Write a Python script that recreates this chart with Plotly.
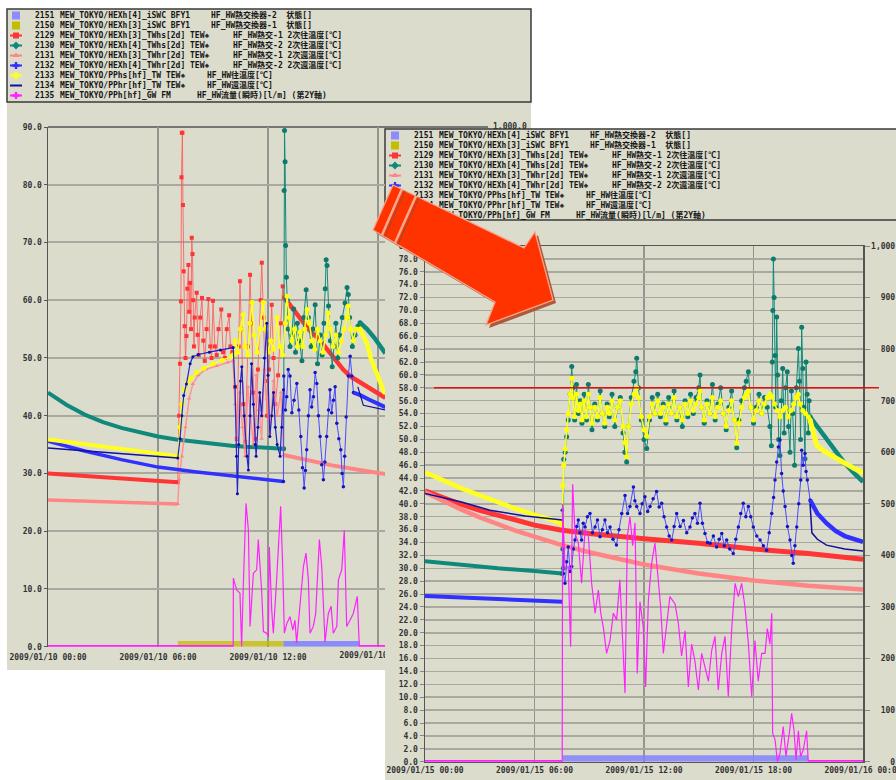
import pandas as pd
import plotly.graph_objects as go

W, H = 896, 780
DAY1 = "2009-01-10"
DAY2 = "2009-01-15"

# ---------------- Day 1 (left screenshot) : (hour, value) ----------------
D1_TEAL_IDLE = [(0, 44.0), (1, 41.9), (2, 40.2), (3, 38.9), (4, 37.9), (5, 37.1), (6, 36.4), (7, 35.9),
                (8, 35.5), (9, 35.1), (10, 34.8), (11, 34.6), (12, 34.5), (12.85, 34.3)]
D1_TEAL_RUN = [(12.85, 34.3), (12.88, 79.0), (12.9, 89.4), (12.93, 84.0), (12.96, 69.5), (13.0, 64.0), (13.05, 60.0),
               (13.1, 55.0), (13.2, 52.0), (13.3, 54.0), (13.4, 58.5), (13.5, 51.0), (13.6, 56.0), (13.7, 53.0),
               (13.85, 49.5), (13.95, 57.0), (14.08, 61.8), (14.2, 57.0), (14.35, 52.0), (14.45, 55.0), (14.57, 59.2),
               (14.7, 49.0), (14.85, 54.0), (14.95, 50.5), (15.05, 56.0), (15.12, 62.0), (15.17, 67.0), (15.22, 66.0),
               (15.3, 59.0), (15.4, 53.0), (15.5, 48.5), (15.6, 52.0), (15.7, 56.0), (15.8, 50.0), (15.9, 54.0),
               (16.05, 57.0), (16.2, 59.5), (16.31, 62.2), (16.38, 61.0), (16.45, 57.0), (16.6, 52.0), (16.75, 54.0),
               (16.9, 55.5), (17.02, 56.1)]
D1_TEAL_TAIL = [(17.02, 56.1), (17.4, 55.0), (17.8, 53.5), (18.2, 51.6), (18.4, 50.8)]

D1_RED_IDLE = [(0, 30.0), (2, 29.6), (4, 29.2), (6, 28.8), (7.08, 28.5)]
D1_RED_RUN = [(7.08, 28.5), (7.15, 40.0), (7.2, 49.0), (7.25, 59.8), (7.28, 81.3), (7.3, 89.0), (7.33, 89.0),
              (7.36, 76.5), (7.4, 65.0), (7.45, 55.5), (7.5, 50.0), (7.55, 53.8), (7.6, 62.0), (7.66, 66.1),
              (7.7, 58.0), (7.75, 63.0), (7.8, 55.0), (7.84, 70.8), (7.88, 68.0), (7.92, 60.0), (7.96, 52.0),
              (8.0, 57.0), (8.11, 61.3), (8.16, 54.0), (8.22, 50.5), (8.3, 57.0), (8.4, 60.4), (8.47, 53.0),
              (8.55, 49.5), (8.65, 55.0), (8.75, 60.2), (8.85, 52.0), (8.92, 50.0), (9.0, 59.9), (9.1, 52.0),
              (9.2, 50.5), (9.3, 55.0), (9.45, 58.4), (9.55, 51.0), (9.65, 50.0), (9.75, 55.0), (9.88, 57.4),
              (9.95, 52.0), (10.05, 51.0), (10.2, 45.0), (10.3, 36.0), (10.4, 52.0), (10.47, 63.3), (10.55, 55.0),
              (10.65, 42.0), (10.75, 35.5), (10.9, 52.0), (11.02, 64.4), (11.1, 56.0), (11.2, 44.0), (11.3, 36.0),
              (11.45, 48.0), (11.6, 60.0), (11.66, 66.5), (11.75, 57.0), (11.85, 46.0), (11.95, 40.0), (12.05, 48.0),
              (12.2, 59.2), (12.3, 50.0), (12.4, 42.0), (12.55, 47.0), (12.7, 56.0), (12.8, 62.4), (12.88, 60.5)]
D1_RED_TAIL = [(12.88, 60.5), (13.5, 58.0), (14.2, 55.0), (14.85, 53.0), (15.5, 50.5), (16.1, 48.0), (16.5, 46.8),
               (17.4, 45.0), (18.3, 43.3), (18.4, 43.1)]

D1_PINK_IDLE = [(0, 25.4), (3.5, 25.1), (7.08, 24.7)]
D1_PINK_RUN = [(7.08, 24.7), (7.15, 29.0), (7.3, 33.0), (7.5, 38.0), (7.7, 43.0), (7.9, 45.5), (8.2, 47.0),
               (8.6, 48.0), (9.2, 48.6), (9.8, 49.2), (10.1, 49.5), (10.2, 42.0), (10.3, 36.0), (10.45, 44.0),
               (10.6, 38.0), (10.75, 33.0), (10.9, 45.0), (11.05, 40.0), (11.2, 35.0), (11.35, 47.0), (11.5, 41.0),
               (11.65, 36.0), (11.8, 48.0), (11.95, 43.0), (12.1, 37.0), (12.3, 46.0), (12.5, 40.0), (12.7, 44.0),
               (12.85, 33.2)]
D1_PINK_TAIL = [(12.85, 33.2), (14, 32.4), (15.5, 31.4), (17, 30.6), (18.4, 29.9)]

D1_BLUE_IDLE = [(0, 35.6), (2, 33.9), (4, 32.4), (6, 31.1), (8, 30.3), (10, 29.6), (12, 29.0), (12.84, 28.6)]
D1_BLUE_RUN = [(12.84, 28.6), (12.86, 46.9), (12.95, 41.0), (13.02, 43.3), (13.1, 48.0), (13.2, 46.9), (13.3, 40.5),
               (13.42, 42.7), (13.57, 45.6), (13.68, 41.0), (13.79, 36.4), (13.88, 31.0), (13.97, 27.5), (14.04, 30.5),
               (14.11, 34.1), (14.2, 40.0), (14.29, 44.5), (14.38, 41.5), (14.48, 43.3), (14.57, 47.5), (14.66, 45.6),
               (14.75, 40.0), (14.84, 36.4), (14.93, 31.5), (15.02, 28.9), (15.1, 32.0), (15.2, 36.4), (15.3, 41.0),
               (15.38, 44.5), (15.47, 40.5), (15.57, 42.7), (15.66, 45.0), (15.75, 38.7), (15.86, 36.0), (15.97, 34.1),
               (16.04, 30.0), (16.11, 27.7), (16.18, 33.0), (16.26, 39.8), (16.38, 46.9), (16.48, 50.3), (16.57, 46.9),
               (16.66, 44.0)]
D1_BLUE_TAIL = [(16.66, 44.0), (17.0, 43.6), (17.5, 42.8), (18.0, 42.0), (18.4, 41.5)]

D1_YELLOW_IDLE = [(0, 35.9), (2, 35.1), (4, 34.3), (6, 33.5), (7.08, 33.0)]
D1_YELLOW_RUN = [(7.08, 33.0), (7.2, 38.0), (7.3, 42.0), (7.45, 44.5), (7.6, 45.7), (7.8, 46.5), (8.1, 47.5),
                 (8.5, 48.2), (9.0, 49.0), (9.5, 49.6), (10.0, 50.2), (10.1, 50.5), (10.2, 53.0), (10.35, 51.0),
                 (10.5, 55.0), (10.64, 57.5), (10.75, 52.0), (10.9, 50.5), (11.0, 56.0), (11.13, 59.6), (11.25, 54.0),
                 (11.4, 51.0), (11.55, 55.0), (11.73, 59.6), (11.85, 55.0), (12.0, 51.0), (12.15, 53.0), (12.3, 51.5),
                 (12.49, 57.0), (12.65, 52.0), (12.8, 50.5), (12.95, 56.0), (13.04, 60.7), (13.15, 57.0), (13.3, 53.0),
                 (13.45, 55.0), (13.6, 52.0), (13.75, 54.5), (13.9, 52.0), (14.0, 55.0), (14.13, 58.4), (14.25, 56.0),
                 (14.4, 53.0), (14.55, 51.5), (14.7, 55.0), (14.85, 53.0), (15.0, 51.0), (15.15, 54.0), (15.28, 57.8),
                 (15.4, 55.0), (15.55, 52.0), (15.7, 54.0), (15.85, 51.0), (16.0, 53.0), (16.15, 55.0), (16.3, 57.0),
                 (16.37, 59.0), (16.5, 55.0), (16.65, 53.0), (16.8, 55.0), (17.02, 55.0)]
D1_YELLOW_TAIL = [(17.02, 55.0), (17.4, 52.5), (17.6, 50.0), (17.95, 47.0), (18.28, 44.5), (18.4, 43.8)]

D1_NAVY_IDLE = [(0, 34.4), (3.5, 33.6), (7.08, 32.7)]
D1_NAVY_RUN = [(7.08, 32.7), (7.2, 36.0), (7.3, 40.0), (7.4, 43.5), (7.55, 45.5), (7.75, 49.0), (7.9, 50.2),
               (8.2, 50.6), (8.8, 51.0), (9.4, 51.4), (10.1, 51.8), (10.2, 45.0), (10.28, 33.0), (10.33, 26.5),
               (10.4, 35.0), (10.5, 46.0), (10.57, 48.5), (10.7, 40.0), (10.85, 33.0), (10.93, 30.6), (11.02, 40.0),
               (11.1, 49.0), (11.2, 42.0), (11.3, 35.0), (11.35, 33.0), (11.45, 38.0), (11.55, 44.0), (11.65, 40.0),
               (11.8, 50.0), (11.93, 56.0), (12.0, 47.0), (12.1, 36.4), (12.2, 40.0), (12.3, 44.0), (12.4, 38.0),
               (12.5, 35.0), (12.66, 33.0), (12.75, 38.0), (12.84, 44.5)]
D1_NAVY_TAIL = [(16.9, 45.0), (17.2, 41.8), (18.4, 41.0)]

# flow [l/m] on the second Y axis
D1_FLOW_IDLE_A = [(0, 0), (10.1, 0)]
D1_FLOW_RUN = [(10.1, 0), (10.11, 132), (10.2, 120), (10.29, 109), (10.47, 103), (10.56, 0), (10.65, 116),
               (10.8, 276), (10.93, 224), (11.02, 39), (11.2, 141), (11.38, 148), (11.47, 206), (11.65, 109),
               (11.75, 29), (11.93, 26), (12.02, 19), (12.07, 192), (12.2, 71), (12.29, 26), (12.47, 129),
               (12.69, 270), (12.8, 154), (12.89, 26), (13.02, 44), (13.2, 58), (13.35, 32), (13.47, 51), (13.56, 7),
               (13.75, 78), (13.93, 154), (14.07, 180), (14.2, 129), (14.29, 26), (14.47, 39), (14.6, 64),
               (14.8, 206), (14.93, 154), (15.11, 9), (15.29, 64), (15.44, 78), (15.56, 26), (15.75, 39),
               (15.84, 129), (16.02, 148), (16.16, 224), (16.29, 39), (16.47, 51), (16.65, 64), (16.87, 97),
               (16.98, 0)]
D1_FLOW_IDLE_B = [(16.98, 0), (18.4, 0)]

# equipment states (on = 1)
D1_HEX1_ON = [(7.08, 1), (12.84, 1)]
D1_HEX2_ON = [(12.84, 1), (16.98, 1)]

# ---------------- Day 2 (right screenshot) ----------------
D2_YELLOW_IDLE = [(0, 44.9), (1, 43.6), (2, 42.4), (3, 41.3), (4, 40.2), (5, 39.2), (6, 38.3), (7, 37.5), (7.52, 36.8)]
D2_NAVY_IDLE = [(0, 41.6), (2, 40.3), (3.56, 39.0), (5.5, 38.1), (7.52, 37.5)]
D2_RED = [(0, 42.0), (1, 40.9), (2, 39.9), (3, 39.0), (4, 38.2), (5, 37.4), (6, 36.7), (7.5, 35.9), (9, 35.4),
          (12, 34.6), (15, 33.9), (18, 33.0), (21, 32.3), (24, 31.4)]
D2_PINK = [(0, 41.8), (1, 40.4), (2, 39.1), (3, 37.9), (4, 36.8), (5, 35.8), (6, 34.9), (7.5, 33.6), (9, 32.5),
           (12, 30.6), (15, 29.2), (18, 28.1), (21, 27.3), (24, 26.7)]
D2_TEAL_IDLE = [(0, 31.1), (2, 30.5), (4, 30.0), (6, 29.6), (7.52, 29.2)]
D2_BLUE_IDLE = [(0, 25.7), (3.56, 25.3), (7.52, 24.8)]

D2_TEAL_RUN = [(7.52, 29.2), (7.55, 33.0), (7.58, 30.0), (7.6, 46.9), (7.68, 48.0), (7.76, 50.4), (7.85, 53.0),
               (7.95, 57.0), (8.04, 61.3), (8.1, 58.0), (8.2, 53.0), (8.3, 58.5), (8.4, 54.0), (8.5, 56.0),
               (8.6, 52.5), (8.72, 57.0), (8.85, 53.0), (8.95, 58.5), (9.05, 55.0), (9.15, 51.5), (9.3, 55.5),
               (9.45, 53.0), (9.6, 57.5), (9.72, 54.0), (9.85, 52.0), (9.98, 55.5), (10.1, 53.5), (10.25, 57.0),
               (10.4, 52.0), (10.55, 55.0), (10.7, 56.5), (10.85, 51.0), (10.95, 48.0), (11.05, 46.5), (11.15, 52.0),
               (11.3, 56.5), (11.45, 59.0), (11.55, 60.5), (11.6, 62.6), (11.7, 58.0), (11.85, 53.0), (12.0, 50.0),
               (12.15, 48.6), (12.3, 53.0), (12.45, 56.5), (12.6, 54.0), (12.75, 57.0), (12.9, 53.5), (13.05, 55.5),
               (13.2, 52.5), (13.35, 56.5), (13.5, 54.0), (13.65, 57.5), (13.8, 53.0), (13.95, 55.0), (14.1, 52.0),
               (14.25, 56.0), (14.4, 53.5), (14.55, 57.0), (14.7, 54.0), (14.85, 56.5), (15.0, 58.0), (15.07, 60.0),
               (15.15, 55.0), (15.3, 52.5), (15.45, 56.0), (15.6, 54.0), (15.75, 58.5), (15.9, 53.0), (16.05, 55.5),
               (16.2, 58.0), (16.35, 54.0), (16.5, 51.5), (16.65, 55.0), (16.8, 57.5), (16.95, 53.0), (17.08, 48.7),
               (17.2, 53.0), (17.35, 56.0), (17.5, 58.0), (17.6, 59.0), (17.72, 60.5), (17.85, 55.0), (18.0, 52.5),
               (18.15, 55.0), (18.3, 57.0), (18.45, 54.0), (18.6, 56.5), (18.75, 55.0), (18.9, 52.0), (18.98, 49.0),
               (19.03, 62.0), (19.06, 70.0), (19.09, 78.0), (19.13, 72.0), (19.18, 63.0), (19.22, 55.0),
               (19.27, 69.0), (19.32, 60.0), (19.38, 50.0), (19.45, 47.5), (19.52, 56.0), (19.6, 61.0), (19.68, 51.0),
               (19.76, 58.0), (19.85, 60.5), (19.92, 52.0), (20.0, 48.0), (20.08, 57.5), (20.15, 54.0), (20.25, 46.0),
               (20.35, 58.0), (20.46, 64.1), (20.52, 59.0), (20.58, 50.0), (20.64, 67.4), (20.7, 61.0), (20.76, 55.0),
               (20.82, 47.0), (20.88, 62.0), (20.94, 57.0), (21.0, 51.0), (21.05, 56.0), (21.1, 53.5)]
D2_TEAL_TAIL = [(21.1, 53.5), (21.5, 52.0), (22.2, 49.4), (22.6, 47.7), (23.0, 46.3), (23.5, 44.8), (24.0, 43.4)]

D2_YELLOW_RUN = [(7.52, 36.8), (7.55, 42.9), (7.6, 46.0), (7.68, 48.5), (7.76, 51.5), (7.85, 54.0), (7.95, 57.0),
                 (8.04, 59.5), (8.1, 56.5), (8.2, 53.5), (8.3, 57.0), (8.4, 54.5), (8.5, 55.5), (8.6, 53.0),
                 (8.72, 56.0), (8.85, 53.5), (8.95, 57.0), (9.05, 55.0), (9.15, 52.5), (9.3, 55.0), (9.45, 53.5),
                 (9.6, 56.5), (9.72, 54.0), (9.85, 52.5), (9.98, 55.0), (10.1, 54.0), (10.25, 56.0), (10.4, 53.0),
                 (10.55, 55.0), (10.7, 56.0), (10.85, 52.0), (10.95, 49.5), (11.05, 47.3), (11.15, 52.0),
                 (11.3, 55.5), (11.45, 57.0), (11.6, 58.0), (11.7, 56.5), (11.85, 53.5), (12.0, 51.5), (12.15, 50.5),
                 (12.3, 53.5), (12.45, 55.5), (12.6, 54.0), (12.75, 56.0), (12.9, 54.0), (13.05, 55.0), (13.2, 53.0),
                 (13.35, 55.5), (13.5, 54.0), (13.65, 56.5), (13.8, 53.5), (13.95, 55.0), (14.1, 53.0), (14.25, 55.5),
                 (14.4, 54.0), (14.55, 56.0), (14.7, 54.5), (14.85, 55.5), (15.0, 56.5), (15.07, 57.5), (15.15, 55.0),
                 (15.3, 53.0), (15.45, 55.5), (15.6, 54.0), (15.75, 56.5), (15.9, 53.5), (16.05, 55.0), (16.2, 56.0),
                 (16.35, 54.0), (16.5, 52.0), (16.65, 54.5), (16.8, 56.0), (16.95, 53.0), (17.08, 49.4), (17.2, 52.5),
                 (17.35, 55.0), (17.5, 56.5), (17.6, 57.0), (17.72, 57.5), (17.85, 55.0), (18.0, 53.0), (18.15, 54.5),
                 (18.3, 56.0), (18.45, 54.0), (18.6, 55.5), (18.75, 56.5), (18.9, 57.0), (19.0, 56.6), (19.15, 55.5),
                 (19.3, 54.5), (19.45, 53.5), (19.6, 54.5), (19.75, 55.0), (19.9, 53.5), (20.05, 54.5), (20.2, 55.5),
                 (20.35, 56.5), (20.46, 57.0), (20.55, 55.5), (20.7, 54.5), (20.85, 54.0), (21.0, 53.5), (21.1, 53.0)]
D2_YELLOW_TAIL = [(21.1, 53.0), (21.46, 49.1), (21.8, 48.3), (22.2, 47.6), (22.6, 46.9), (23.0, 46.3), (23.5, 45.5),
                  (24.0, 44.8)]

D2_BLUE_RUN = [(7.52, 39.0), (7.58, 29.2), (7.67, 27.7), (7.76, 31.0), (7.85, 33.3), (7.95, 29.5), (8.04, 30.3),
               (8.13, 33.0), (8.22, 34.4), (8.31, 36.5), (8.40, 37.5), (8.49, 35.5), (8.58, 34.4), (8.67, 37.0),
               (8.77, 36.4), (8.9, 38.0), (9.04, 38.5), (9.18, 35.5), (9.32, 36.4), (9.45, 37.5), (9.59, 34.9),
               (9.72, 36.0), (9.86, 37.5), (10.0, 35.5), (10.14, 36.4), (10.3, 34.5), (10.49, 33.6), (10.63, 36.0),
               (10.78, 38.5), (10.96, 41.3), (11.1, 38.5), (11.23, 39.6), (11.42, 42.6), (11.5, 40.5), (11.60, 39.6),
               (11.78, 38.5), (11.9, 40.0), (12.05, 41.1), (12.2, 38.8), (12.33, 39.6), (12.5, 40.8), (12.69, 41.9),
               (12.83, 39.5), (12.97, 40.1), (13.1, 38.0), (13.24, 36.4), (13.38, 35.0), (13.52, 34.4),
               (13.65, 36.5), (13.79, 38.5), (13.98, 36.5), (14.16, 37.4), (14.34, 35.5), (14.52, 36.4),
               (14.65, 37.8), (14.79, 38.5), (14.93, 37.0), (15.07, 40.1), (15.2, 37.0), (15.34, 35.4), (15.48, 34.0),
               (15.62, 33.9), (15.8, 35.0), (15.98, 33.3), (16.12, 34.5), (16.26, 35.4), (16.4, 33.5), (16.53, 34.4),
               (16.7, 33.0), (16.89, 32.3), (17.03, 34.5), (17.17, 36.4), (17.3, 38.5), (17.44, 40.1), (17.58, 38.0),
               (17.72, 39.6), (17.85, 38.0), (17.99, 36.4), (18.18, 35.0), (18.36, 34.4), (18.54, 33.5),
               (18.72, 32.8), (18.86, 35.5), (19.00, 38.5), (19.1, 41.0), (19.18, 43.7), (19.27, 46.5),
               (19.36, 48.8), (19.45, 49.9), (19.54, 44.7), (19.63, 42.0), (19.73, 39.6), (19.86, 36.5),
               (20.0, 34.4), (20.1, 32.0), (20.18, 30.8), (20.27, 33.5), (20.37, 36.4), (20.48, 40.0),
               (20.59, 43.7), (20.64, 48.3), (20.72, 46.0), (20.82, 47.8), (20.88, 45.0), (20.95, 43.7),
               (21.10, 40.6)]
D2_BLUE_TAIL = [(21.1, 40.6), (21.5, 38.5), (22.0, 37.0), (22.5, 35.8), (23.0, 35.0), (23.5, 34.5), (24.0, 34.1)]
D2_NAVY_TAIL = [(21.1, 40.0), (21.2, 35.5), (21.5, 34.5), (22.0, 33.6), (23.0, 33.0), (24.0, 32.7)]

D2_FLOW_IDLE_A = [(0, 0), (7.52, 0)]
D2_FLOW_RUN = [(7.52, 0), (7.54, 500), (7.67, 375), (7.85, 378), (7.98, 223), (8.09, 538), (8.22, 443), (8.40, 425),
               (8.58, 346), (8.77, 450), (8.95, 438), (9.13, 346), (9.32, 288), (9.50, 333), (9.63, 288), (9.77, 261),
               (9.95, 210), (10.14, 235), (10.32, 288), (10.50, 275), (10.68, 353), (10.87, 184), (10.96, 133),
               (11.09, 438), (11.23, 475), (11.38, 419), (11.51, 463), (11.63, 171), (11.78, 310), (11.96, 261),
               (12.09, 145), (12.24, 313), (12.42, 385), (12.60, 424), (12.79, 346), (12.91, 301), (13.06, 210),
               (13.24, 261), (13.42, 320), (13.70, 306), (13.88, 269), (14.06, 205), (14.25, 254), (14.43, 145),
               (14.61, 228), (14.79, 195), (14.98, 139), (15.16, 210), (15.34, 186), (15.53, 156), (15.71, 216),
               (15.89, 243), (16.07, 139), (16.26, 210), (16.44, 243), (16.62, 126), (16.80, 254), (16.99, 346),
               (17.17, 320), (17.35, 346), (17.53, 301), (17.72, 229), (17.90, 126), (18.08, 235), (18.26, 156),
               (18.45, 210), (18.63, 210), (18.76, 258), (18.90, 228), (19.00, 288), (19.05, 55), (19.18, 43),
               (19.31, 0), (19.45, 16), (19.63, 68), (19.78, 10), (19.96, 55), (20.09, 94), (20.22, 61), (20.33, 4),
               (20.46, 60), (20.58, 10), (20.73, 23), (20.91, 60), (21.00, 0)]
D2_FLOW_IDLE_B = [(21.0, 0), (24.0, 0)]
D2_HEX2_ON = [(7.54, 1), (21.0, 1)]

SETPOINT = 58.0

# ---------------- tick labels / legend text ----------------
D1_TICK_HOURS = [0, 6, 12, 18]
D1_TICK_TEXT = ["2009/01/10 00:00", "2009/01/10 06:00", "2009/01/10 12:00", ""]
D1_CUT_LABEL = "2009/01/10 18:00"
D2_TICK_HOURS = [0, 6, 12, 18, 24]
D2_TICK_TEXT = ["2009/01/15 00:00", "2009/01/15 06:00", "2009/01/15 12:00", "2009/01/15 18:00", "2009/01/16 00:00"]
FLOW_TICKS = [0, 100, 200, 300, 400, 500, 600, 700, 800, 900, 1000]

LEG_IDS = ["2151", "2150", "2129", "2130", "2131", "2132", "2133", "2134", "2135"]
LEG_TAGS = ["MEW_TOKYO/HEXh[4]_iSWC BFY1", "MEW_TOKYO/HEXh[3]_iSWC BFY1",
            "MEW_TOKYO/HEXh[3]_TWhs[2d] TEW◈", "MEW_TOKYO/HEXh[4]_TWhs[2d] TEW◈",
            "MEW_TOKYO/HEXh[3]_TWhr[2d] TEW◈", "MEW_TOKYO/HEXh[4]_TWhr[2d] TEW◈",
            "MEW_TOKYO/PPhs[hf]_TW TEW◈", "MEW_TOKYO/PPhr[hf]_TW TEW◈", "MEW_TOKYO/PPh[hf]_GW FM"]
LEG_DESCS = ["HF_HW熱交換器-2  状態[]", "HF_HW熱交換器-1  状態[]",
             "HF_HW熱交-1 2次往温度[℃]", "HF_HW熱交-2 2次往温度[℃]",
             "HF_HW熱交-1 2次還温度[℃]", "HF_HW熱交-2 2次還温度[℃]",
             "HF_HW往温度[℃]", "HF_HW還温度[℃]", "HF_HW流量(瞬時)[l/m] (第2Y軸)"]

# ---------------- styles / layout constants ----------------
BG = "#dcdccd"
HGRID = "#a9a9a2"
VGRID = "#95958f"
AXC = "#555555"
TXT = "#151515"
MONO = "DejaVu Sans Mono, Noto Sans CJK JP"
TICKFONT = dict(family=MONO, size=8, color="#333333", weight="bold")

C_RED, C_TEAL, C_PINK = "#ff3535", "#11897a", "#ff8585"
C_BLUE, C_YEL, C_NAVY, C_MAG = "#3030ff", "#ffff22", "#10109a", "#ff22ff"
C_LAV, C_OLV = "#8c8cff", "#c4bc00"
LEG_COLORS = [C_LAV, C_OLV, C_RED, C_TEAL, C_PINK, C_BLUE, C_YEL, C_NAVY, C_MAG]
LEG_SYMS = ["square", "square", "square", "diamond", "triangle-up", "cross", "diamond", None, "cross"]
DESC_X = [214, 214, 236, 236, 236, 236, 210, 210, 200]

fig = go.Figure()


def when(day, hours):
    base = pd.Timestamp(day)
    return [base + pd.Timedelta(hours=h) for h in hours]


def add(day, pairs, xa, ya, color, width, mode="lines", msym="circle", msize=4, mcolor=None,
        fill=None, fillcolor=None, dash=None, opacity=1.0):
    hrs = [p[0] for p in pairs]
    vals = [p[1] for p in pairs]
    fig.add_trace(go.Scatter(
        x=when(day, hrs), y=vals, xaxis=xa, yaxis=ya, mode=mode,
        line=dict(color=color, width=width, dash=dash),
        marker=dict(symbol=msym, size=msize, color=mcolor or color, line=dict(width=0)),
        fill=fill, fillcolor=fillcolor, opacity=opacity,
        hoverinfo="skip", showlegend=False))


# ----- left chart (day 1) -----
add(DAY1, D1_HEX1_ON, "x", "y", C_OLV, 0, fill="tozeroy", fillcolor="rgba(196,188,0,0.75)")
add(DAY1, D1_HEX2_ON, "x", "y", C_LAV, 0, fill="tozeroy", fillcolor="rgba(130,130,255,0.9)")
add(DAY1, D1_RED_IDLE, "x", "y", C_RED, 4)
add(DAY1, D1_RED_RUN, "x", "y", "rgba(255,90,90,0.85)", 1, "lines+markers", "square", 4, C_RED)
add(DAY1, D1_RED_TAIL, "x", "y", C_RED, 4.5)
add(DAY1, D1_TEAL_IDLE, "x", "y", C_TEAL, 4)
add(DAY1, D1_TEAL_RUN, "x", "y", C_TEAL, 1, "lines+markers", "circle", 5, "#0c7a6c")
add(DAY1, D1_TEAL_TAIL, "x", "y", C_TEAL, 4.5)
add(DAY1, D1_PINK_IDLE, "x", "y", C_PINK, 3.5)
add(DAY1, D1_PINK_RUN, "x", "y", "rgba(255,140,140,0.9)", 1.5, "lines+markers", "triangle-up", 4, C_PINK)
add(DAY1, D1_PINK_TAIL, "x", "y", C_PINK, 4)
add(DAY1, D1_BLUE_IDLE, "x", "y", C_BLUE, 3.5)
add(DAY1, D1_BLUE_RUN, "x", "y", "#4a4aff", 1, "lines+markers", "circle", 3.5, "#1414c0")
add(DAY1, D1_BLUE_TAIL, "x", "y", C_BLUE, 4)
add(DAY1, D1_YELLOW_IDLE, "x", "y", C_YEL, 4)
add(DAY1, D1_YELLOW_RUN, "x", "y", C_YEL, 1.5, "lines+markers", "circle", 5, "#ffff00")
add(DAY1, D1_YELLOW_TAIL, "x", "y", C_YEL, 4.5)
add(DAY1, D1_NAVY_IDLE, "x", "y", C_NAVY, 1.5)
add(DAY1, D1_NAVY_RUN, "x", "y", "#2424c8", 1.2, "lines+markers", "circle", 3, "#0a0aa8")
add(DAY1, D1_NAVY_TAIL, "x", "y", C_NAVY, 1.2)
add(DAY1, D1_FLOW_IDLE_A, "x", "y2", C_MAG, 3.5)
add(DAY1, D1_FLOW_RUN, "x", "y2", C_MAG, 1.2)
add(DAY1, D1_FLOW_IDLE_B, "x", "y2", C_MAG, 3.5)

# ----- right chart (day 2) -----
add(DAY2, D2_HEX2_ON, "x2", "y3", C_LAV, 0, fill="tozeroy", fillcolor="rgba(130,130,255,0.85)")
add(DAY2, D2_RED, "x2", "y3", C_RED, 5)
add(DAY2, D2_TEAL_IDLE, "x2", "y3", C_TEAL, 4)
add(DAY2, D2_TEAL_RUN, "x2", "y3", C_TEAL, 1, "lines+markers", "circle", 5, "#0c7a6c")
add(DAY2, D2_TEAL_TAIL, "x2", "y3", C_TEAL, 4.5)
add(DAY2, D2_PINK, "x2", "y3", C_PINK, 4.5)
add(DAY2, D2_BLUE_IDLE, "x2", "y3", C_BLUE, 4)
add(DAY2, D2_BLUE_RUN, "x2", "y3", "#4a4aff", 1, "lines+markers", "circle", 3.5, "#1414c0")
add(DAY2, D2_BLUE_TAIL, "x2", "y3", C_BLUE, 4.5)
add(DAY2, D2_YELLOW_IDLE, "x2", "y3", C_YEL, 4.5)
add(DAY2, D2_YELLOW_RUN, "x2", "y3", C_YEL, 1.5, "lines+markers", "circle", 5, "#ffff00")
add(DAY2, D2_YELLOW_TAIL, "x2", "y3", C_YEL, 5)
add(DAY2, D2_NAVY_IDLE, "x2", "y3", C_NAVY, 1.5)
add(DAY2, D2_NAVY_TAIL, "x2", "y3", C_NAVY, 1.5)
add(DAY2, D2_FLOW_IDLE_A, "x2", "y4", C_MAG, 3.5)
add(DAY2, D2_FLOW_RUN, "x2", "y4", C_MAG, 1.2)
add(DAY2, D2_FLOW_IDLE_B, "x2", "y4", C_MAG, 3.5)


# ----- legends (text traces in pixel overlays, so the arrow can cover them) -----
def legend(dx, dy, xa, ya):
    xs, ys, ts = [], [], []
    for i in range(9):
        yy = 15.5 + 10 * i + dy
        xs += [35 + dx, 60 + dx, DESC_X[i] - 3 + dx]
        ys += [yy, yy, yy]
        ts += [LEG_IDS[i], LEG_TAGS[i], LEG_DESCS[i]]
        col = LEG_COLORS[i]
        if i < 2:
            fig.add_trace(go.Scatter(x=[16 + dx], y=[yy], xaxis=xa, yaxis=ya, mode="markers",
                                     marker=dict(symbol="square", size=8, color=col, line=dict(width=0)),
                                     hoverinfo="skip", showlegend=False))
        else:
            fig.add_trace(go.Scatter(x=[10 + dx, 22 + dx], y=[yy, yy], xaxis=xa, yaxis=ya, mode="lines",
                                     line=dict(color=col, width=2), hoverinfo="skip", showlegend=False))
            if LEG_SYMS[i]:
                fig.add_trace(go.Scatter(x=[16 + dx], y=[yy], xaxis=xa, yaxis=ya, mode="markers",
                                         marker=dict(symbol=LEG_SYMS[i], size=6, color=col, line=dict(width=0)),
                                         hoverinfo="skip", showlegend=False))
    fig.add_trace(go.Scatter(x=xs, y=ys, xaxis=xa, yaxis=ya, mode="text", text=ts,
                             textposition="middle right",
                             textfont=dict(family=MONO, size=8, color=TXT, weight="bold"),
                             hoverinfo="skip", showlegend=False))


legend(0, 0, "x3", "y5")
legend(379, 120, "x5", "y7")

# left chart's right-axis top label (mostly hidden under the right screenshot)
fig.add_trace(go.Scatter(x=[493], y=[126.5], xaxis="x3", yaxis="y5", mode="text",
                         text=[f"{FLOW_TICKS[-1]:,.1f}"], textposition="middle right",
                         textfont=TICKFONT, hoverinfo="skip", showlegend=False))
# left chart's last date label, cut by the right screenshot
fig.add_trace(go.Scatter(x=[378], y=[656], xaxis="x4", yaxis="y6", mode="text",
                         text=[D1_CUT_LABEL], textposition="middle center",
                         textfont=TICKFONT, hoverinfo="skip", showlegend=False))


# ---------------- shapes ----------------
def rect(x0, y0, x1, y1, fill=None, line=None, lw=0, layer="below"):
    return dict(type="rect", xref="paper", yref="paper", x0=x0 / W, x1=x1 / W, y0=1 - y1 / H, y1=1 - y0 / H,
                fillcolor=fill or "rgba(0,0,0,0)", line=dict(color=line or "rgba(0,0,0,0)", width=lw), layer=layer)


def seg(x0, y0, x1, y1, color, w, layer="below"):
    return dict(type="line", xref="paper", yref="paper", x0=x0 / W, x1=x1 / W, y0=1 - y0 / H, y1=1 - y1 / H,
                line=dict(color=color, width=w), layer=layer)


def poly(pts, fill, line=None, lw=0, dx=0, dy=0):
    path = "M " + " L ".join(f"{(x + dx) / W:.5f},{1 - (y + dy) / H:.5f}" for x, y in pts) + " Z"
    return dict(type="path", xref="paper", yref="paper", path=path, fillcolor=fill,
                line=dict(color=line or "rgba(0,0,0,0)", width=lw), layer="above")


ARROW = [(393, 185), (524, 248), (535, 232), (553, 300), (486, 325), (495, 302), (373, 230)]

shapes = [
    rect(7, 9, 531, 670, fill=BG),
    rect(7, 9, 531, 102, line="#3a3a3a", lw=1.5),
    seg(48, 127, 488, 127, AXC, 1.5),
    rect(385, 129, 900, 782, fill=BG),
    rect(385, 129, 900, 220, line="#3a3a3a", lw=1.5),
    dict(type="line", xref="paper", yref="y3", x0=434 / W, x1=879 / W, y0=SETPOINT, y1=SETPOINT,
         line=dict(color="#e01010", width=1.5), layer="above"),
    poly(ARROW, "#b0583a", dx=3, dy=3),
    poly(ARROW, "#ff3300", line="#f6a48c", lw=1.3),
    seg(402, 189, 382, 235, "#f6a890", 2.5, "above"),
    seg(405, 191, 385, 236.5, "#a8482c", 1.2, "above"),
    seg(416, 196, 395, 243, "#f6a890", 2.5, "above"),
    seg(419, 197.5, 398, 244.5, "#a8482c", 1.2, "above"),
]

layout = dict(
    width=W, height=H, autosize=False, margin=dict(l=0, r=0, t=0, b=0, pad=0, autoexpand=False),
    paper_bgcolor="white", plot_bgcolor="rgba(0,0,0,0)", showlegend=False,
    xaxis=dict(type="date", domain=[48 / W, 385 / W], anchor="y",
               range=when(DAY1, [0, 18.38]), tickvals=when(DAY1, D1_TICK_HOURS), ticktext=D1_TICK_TEXT,
               showgrid=True, gridcolor=VGRID, gridwidth=1.5, showline=False, zeroline=False,
               ticks="outside", ticklen=3, tickcolor="rgba(0,0,0,0)",
               tickfont=TICKFONT, ticklabeloverflow="allow", automargin=False),
    yaxis=dict(domain=[1 - 646.7 / H, 1 - 127 / H], anchor="x", range=[0, 90], dtick=10, tickformat=".1f",
               showgrid=True, gridcolor=HGRID, gridwidth=2, showline=True, linecolor=AXC, linewidth=1.5,
               ticks="outside", ticklen=3, tickcolor=AXC, tickfont=TICKFONT, zeroline=False, automargin=False),
    yaxis2=dict(overlaying="y", anchor="x", range=[0, 1000], visible=False, automargin=False),
    xaxis2=dict(type="date", domain=[425 / W, 863 / W], anchor="y3",
                range=when(DAY2, [0, 24]), tickvals=when(DAY2, D2_TICK_HOURS), ticktext=D2_TICK_TEXT,
                showgrid=True, gridcolor=VGRID, gridwidth=1.5, showline=True, mirror=True, linecolor=AXC,
                linewidth=1.5, zeroline=False, ticks="", tickfont=TICKFONT, ticklabeloverflow="allow",
                automargin=False),
    yaxis3=dict(domain=[1 - 761.7 / H, 1 - 246 / H], anchor="x2", range=[0, 80], dtick=2, tickformat=".1f",
                showgrid=True, gridcolor=HGRID, gridwidth=1.5, showline=True, linecolor=AXC, linewidth=1.5,
                ticks="outside", ticklen=4, tickcolor="#888888", tickfont=TICKFONT, zeroline=False,
                automargin=False),
    yaxis4=dict(overlaying="y3", anchor="x2", side="right", range=[0, 1000], tickvals=FLOW_TICKS,
                ticktext=[f"{v:,.1f}".rjust(7, "\u00a0") for v in FLOW_TICKS],
                showgrid=False, showline=True, linecolor=AXC, linewidth=1.5, ticks="outside", ticklen=5,
                tickcolor="#888888", tickfont=TICKFONT, zeroline=False, ticklabeloverflow="allow",
                automargin=False),
    xaxis3=dict(domain=[0, 1], range=[0, W], visible=False, anchor="y5"),
    yaxis5=dict(domain=[1 - 129 / H, 1], range=[129, 0], visible=False, anchor="x3"),
    xaxis4=dict(domain=[0, 385 / W], range=[0, 385], visible=False, anchor="y6"),
    yaxis6=dict(domain=[0, 1], range=[H, 0], visible=False, anchor="x4"),
    xaxis5=dict(domain=[0, 1], range=[0, W], visible=False, anchor="y7"),
    yaxis7=dict(domain=[0, 1], range=[H, 0], visible=False, anchor="x5"),
    shapes=shapes,
)
fig.update_layout(**layout)
fig.write_html("out.html",
               config={"displayModeBar": False, "staticPlot": True},
               post_script="document.body.style.margin='0px';document.body.style.padding='0px';"
                           "document.body.style.overflow='hidden';")
